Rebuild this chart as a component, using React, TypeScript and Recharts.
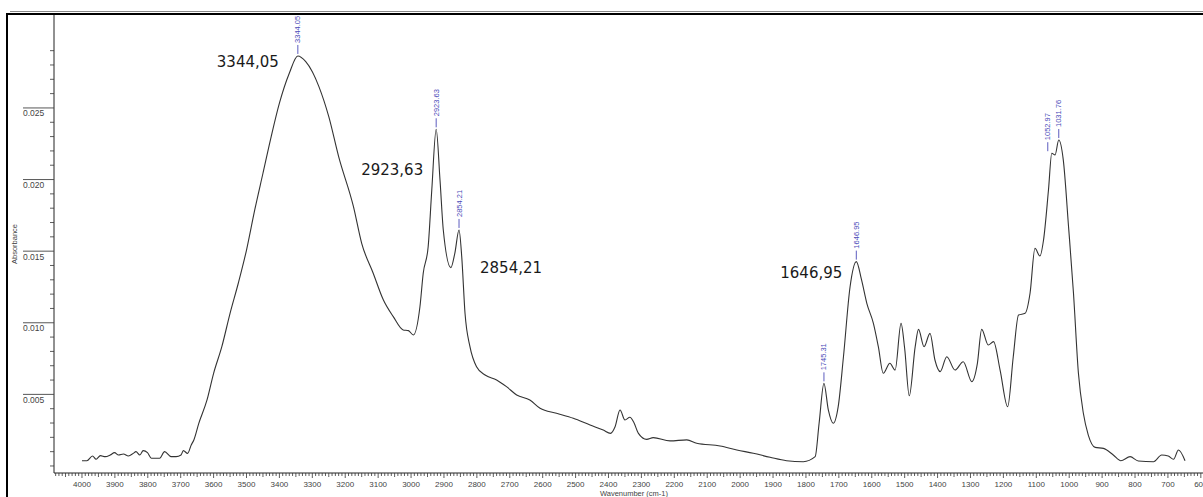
import { LineChart, Line, XAxis, YAxis, ReferenceDot } from 'recharts';

// FTIR spectrum, absorbance vs wavenumber (cm-1), high to low
const wavenumbers = [
  4000, 3985, 3968, 3957, 3944, 3929, 3914, 3901, 3889, 3874, 3859, 3844, 3836, 3824, 3814, 3801,
  3789, 3774, 3764, 3749, 3729, 3714, 3699, 3692, 3679, 3668, 3660, 3645, 3620, 3600, 3575, 3550,
  3525, 3500, 3475, 3450, 3425, 3400, 3370, 3344.05, 3320, 3300, 3280, 3250, 3220, 3175, 3150, 3115,
  3084, 3054, 3024, 3008, 2993, 2973, 2963, 2948, 2937, 2923.63, 2912, 2902, 2879, 2867, 2854.21, 2846,
  2836, 2821, 2801, 2775, 2740, 2710, 2679, 2639, 2608, 2558, 2507, 2456, 2416, 2394, 2380, 2365,
  2350, 2335, 2324, 2309, 2284, 2264, 2213, 2162, 2132, 2061, 2010, 1960, 1909, 1859, 1808, 1772,
  1760, 1745.31, 1732, 1717, 1702, 1686, 1666, 1646.95, 1631, 1615, 1595, 1580, 1565, 1545, 1529, 1511,
  1500, 1486, 1468, 1458, 1441, 1423, 1408, 1392, 1372, 1347, 1322, 1296, 1279, 1266, 1246, 1230,
  1210, 1187, 1170, 1154, 1134, 1119, 1104, 1089, 1078, 1063, 1052.97, 1043, 1031.76, 1018, 1002, 987,
  972, 957, 942, 921, 896, 866, 843, 815, 790, 744, 719, 699, 683, 668, 648,
];

const absorbance = [
  0.00037, 0.00037, 0.0007, 0.00047, 0.00072, 0.00065, 0.00077, 0.00093, 0.00077, 0.00084, 0.0007, 0.00088, 0.001, 0.00077, 0.00107, 0.00093,
  0.00054, 0.00054, 0.00054, 0.001, 0.00065, 0.00065, 0.00077, 0.00107, 0.00088, 0.00147, 0.00182, 0.00298, 0.00461, 0.00647, 0.00833, 0.01066,
  0.01276, 0.01508, 0.01788, 0.02044, 0.023, 0.02533, 0.02742, 0.02863, 0.02823, 0.02753, 0.02649, 0.02439, 0.0216, 0.01811, 0.01555, 0.01346,
  0.01159, 0.01043, 0.0095, 0.00945, 0.00915, 0.01112, 0.01346, 0.01531, 0.01927, 0.02351, 0.01997, 0.01648, 0.01385, 0.01485, 0.01648, 0.01462,
  0.01066, 0.00833, 0.00693, 0.00635, 0.00601, 0.00554, 0.00496, 0.00461, 0.00403, 0.00368, 0.00333, 0.00286, 0.00251, 0.00228, 0.00274, 0.00391,
  0.00321, 0.0034, 0.00309, 0.00228, 0.00186, 0.00198, 0.00175, 0.00182, 0.00159, 0.0014, 0.00112, 0.00089, 0.00061, 0.00037, 0.0003, 0.00065,
  0.00298, 0.00577, 0.00391, 0.00298, 0.00414, 0.00763, 0.0125, 0.01427, 0.01299, 0.01136, 0.00996, 0.00833, 0.00647, 0.00717, 0.0067, 0.00996,
  0.0082, 0.0049, 0.00833, 0.00954, 0.00833, 0.00926, 0.0074, 0.00659, 0.00763, 0.0067, 0.00728, 0.00589, 0.00717, 0.00954, 0.00845, 0.00868,
  0.0067, 0.00414, 0.00763, 0.01054, 0.01066, 0.01206, 0.0152, 0.01466, 0.01578, 0.01927, 0.02184, 0.02172, 0.02276, 0.02137, 0.01671, 0.01206,
  0.00647, 0.00368, 0.00216, 0.0013, 0.00123, 0.00077, 0.00037, 0.00065, 0.00035, 0.0003, 0.00077, 0.0007, 0.00047, 0.00112, 0.00037,
];

// automatic peak pick (small blue vertical labels)
const peakWavenumbers = [3344.05, 2923.63, 2854.21, 1745.31, 1646.95, 1052.97, 1031.76];
const peakLabels = ['3344.05', '2923.63', '2854.21', '1745.31', '1646.95', '1052.97', '1031.76'];

// hand-typed callouts next to the main bands
const calloutWavenumbers = [3344.05, 2923.63, 2854.21, 1646.95];
const calloutTexts = ['3344,05', '2923,63', '2854,21', '1646,95'];

// x axis: labelled every 100, small ticks every 10
const xLabelTicks = [4000, 3900, 3800, 3700, 3600, 3500, 3400, 3300, 3200, 3100, 3000, 2900, 2800, 2700, 2600, 2500,
  2400, 2300, 2200, 2100, 2000, 1900, 1800, 1700, 1600, 1500, 1400, 1300, 1200, 1100, 1000, 900, 800, 700, 600];
// y axis: labelled every 0.005, small ticks every 0.001
const yLabelTicks = [0.005, 0.01, 0.015, 0.02, 0.025];

const spectrum = wavenumbers.map((wn, i) => ({ wn, a: absorbance[i] }));
const valueAt = (wn: number) => absorbance[wavenumbers.indexOf(wn)];

const xTicks: number[] = [];
for (let v = 600; v <= 4080; v += 10) xTicks.push(v);
const yTicks: number[] = [];
for (let m = 0; m <= 29; m++) yTicks.push(m / 1000);

const AXIS_FONT = '"Liberation Sans", Arial, sans-serif';
const CALLOUT_FONT = '"DejaVu Sans", Verdana, sans-serif';

// offsets of the callout text from its peak: [dx, dy, anchor]
const calloutOffsets: [number, number, 'start' | 'end'][] = [
  [-19, 11, 'end'],
  [-13, 46, 'end'],
  [21, 43, 'start'],
  [-14, 16, 'end'],
];

function XTick({ x, y, payload }: any) {
  const v = payload.value;
  const big = v % 100 === 0;
  const mid = v % 50 === 0;
  const len = big ? 5 : mid ? 4 : 3;
  return (
    <g>
      <line x1={x} x2={x} y1={y} y2={y + len} stroke="#333" strokeWidth={0.8} />
      {xLabelTicks.includes(v) && (
        <text x={x} y={y + 13.5} textAnchor="middle" fontSize={8} fontFamily={AXIS_FONT} fill="#444">
          {v}
        </text>
      )}
    </g>
  );
}

function YTick({ x, y, payload }: any) {
  const v = payload.value;
  const labelled = yLabelTicks.some((t) => Math.abs(t - v) < 1e-9);
  if (labelled) {
    return (
      <g>
        <line x1={x - 31} x2={x} y1={y} y2={y} stroke="#444" strokeWidth={0.9} />
        <text x={x - 31} y={y + 8.5} textAnchor="start" fontSize={8.5} fontFamily={AXIS_FONT} fill="#444">
          {v.toFixed(3)}
        </text>
      </g>
    );
  }
  return <line x1={x - 4} x2={x} y1={y} y2={y} stroke="#333" strokeWidth={0.8} />;
}

function PeakMark({ cx, cy, text, dx = 0 }: any) {
  const tx = cx + dx;
  return (
    <g>
      <line x1={tx} x2={tx} y1={cy - 2} y2={cy - 11} stroke="#4a4ab8" strokeWidth={0.9} />
      <text
        x={tx}
        y={cy - 13}
        transform={`rotate(-90 ${tx} ${cy - 13})`}
        textAnchor="start"
        dominantBaseline="central"
        fontSize={7.5}
        fontFamily={AXIS_FONT}
        fill="#4a4ab8"
      >
        {text}
      </text>
    </g>
  );
}

function Callout({ cx, cy, text, dx, dy, anchor }: any) {
  return (
    <text x={cx + dx} y={cy + dy} textAnchor={anchor} fontSize={15} fontFamily={CALLOUT_FONT} fill="#1a1a1a">
      {text}
    </text>
  );
}

export default function App() {
  return (
    <div
      style={{
        position: 'absolute',
        left: 0,
        top: 0,
        width: 1203,
        height: 497,
        overflow: 'hidden',
        background: '#fff',
      }}
    >
      <LineChart width={1230} height={497} data={spectrum} margin={{ top: 15, right: 16, bottom: 0, left: 0 }}>
        <XAxis
          dataKey="wn"
          type="number"
          domain={[560, 4085]}
          reversed
          allowDataOverflow
          ticks={xTicks}
          interval={0}
          tick={(p: any) => <XTick {...p} />}
          tickLine={false}
          tickSize={0}
          tickMargin={0}
          height={24}
          stroke="#222"
          label={({ viewBox }: any) => (
            <text
              x={viewBox.x + viewBox.width / 2}
              y={viewBox.y + 22.5}
              textAnchor="middle"
              fontSize={7.5}
              fontFamily={AXIS_FONT}
              fill="#444"
            >
              Wavenumber (cm-1)
            </text>
          )}
        />
        <YAxis
          type="number"
          domain={[-0.00049, 0.03149]}
          allowDataOverflow
          ticks={yTicks}
          interval={0}
          tick={(p: any) => <YTick {...p} />}
          tickLine={false}
          tickSize={0}
          tickMargin={0}
          width={54}
          stroke="#222"
          label={({ viewBox }: any) => {
            const lx = 14;
            const ly = viewBox.y + viewBox.height / 2;
            return (
              <text
                x={lx}
                y={ly}
                transform={`rotate(-90 ${lx} ${ly})`}
                textAnchor="middle"
                dominantBaseline="central"
                fontSize={7.5}
                fontFamily={AXIS_FONT}
                fill="#444"
              >
                Absorbance
              </text>
            );
          }}
        />
        <Line
          dataKey="a"
          type="monotone"
          stroke="#333"
          strokeWidth={1.1}
          dot={false}
          isAnimationActive={false}
        />
        {peakWavenumbers.map((wn, i) => (
          <ReferenceDot
            key={`peak-${wn}`}
            x={wn}
            y={valueAt(wn)}
            r={0}
            shape={(p: any) => <PeakMark {...p} text={peakLabels[i]} dx={wn === 1052.97 ? -4 : 0} />}
          />
        ))}
        {calloutWavenumbers.map((wn, i) => (
          <ReferenceDot
            key={`callout-${wn}`}
            x={wn}
            y={valueAt(wn)}
            r={0}
            shape={(p: any) => (
              <Callout
                {...p}
                text={calloutTexts[i]}
                dx={calloutOffsets[i][0]}
                dy={calloutOffsets[i][1]}
                anchor={calloutOffsets[i][2]}
              />
            )}
          />
        ))}
      </LineChart>
      {/* window frame: double rule on top, black rule on the left */}
      <div style={{ position: 'absolute', top: 11, left: 10, right: 0, height: 1, background: '#888' }} />
      <div style={{ position: 'absolute', top: 13, left: 6, right: 0, height: 2, background: '#000' }} />
      <div style={{ position: 'absolute', top: 13, left: 6, width: 2, bottom: 0, background: '#000' }} />
    </div>
  );
}
